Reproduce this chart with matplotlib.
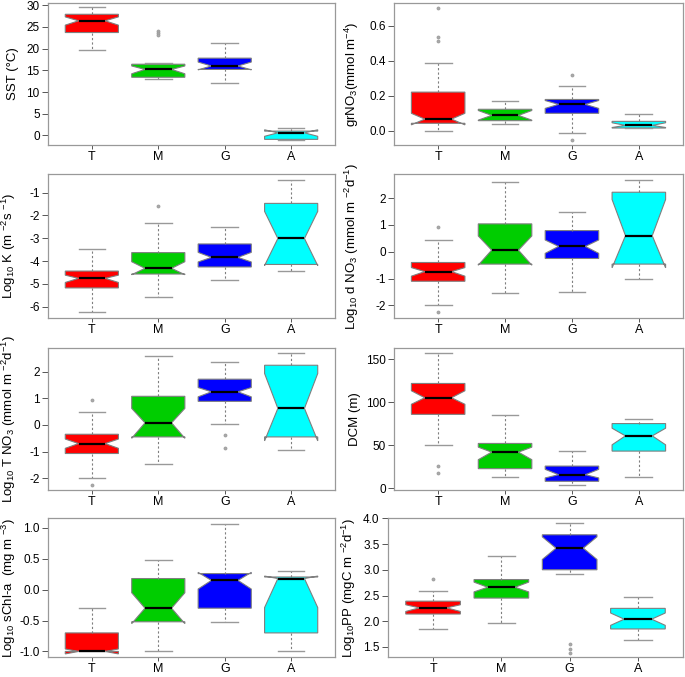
import matplotlib
matplotlib.use("Agg")
import matplotlib.pyplot as plt

plt.rcParams['font.family'] = ['Liberation Sans', 'DejaVu Sans']
plt.rcParams['mathtext.fontset'] = 'custom'
plt.rcParams['mathtext.rm'] = 'Liberation Sans'
plt.rcParams['mathtext.it'] = 'Liberation Sans:italic'

groups = ["T", "M", "G", "A"]
colors = ["#FF0000", "#00CD00", "#0000FF", "#00FFFF"]

# five-number summaries per group: [whislo, q1, median, q3, whishi]
sst_stats = [[19.6, 23.7, 26.4, 27.9, 29.5], [13.0, 13.4, 15.2, 16.4, 16.6],
             [12.0, 15.2, 16.0, 17.8, 21.4], [-1.1, -0.9, 0.6, 1.0, 1.8]]
sst_notch = [[25.4, 27.3], [14.2, 16.0], [15.1, 16.9], [-0.2, 1.3]]
sst_out = [[], [24.1, 23.6, 23.1], [], []]

gr_stats = [[0.0, 0.042, 0.066, 0.220, 0.389], [0.036, 0.057, 0.087, 0.122, 0.167],
            [-0.011, 0.099, 0.150, 0.178, 0.254], [0.015, 0.015, 0.030, 0.053, 0.097]]
gr_notch = [[0.033, 0.099], [0.060, 0.115], [0.127, 0.172], [0.018, 0.045]]
gr_out = [[0.703, 0.532, 0.513], [], [0.315, -0.053], []]

k_stats = [[-6.25, -5.18, -4.76, -4.44, -3.49], [-5.60, -4.57, -4.32, -3.63, -2.31],
           [-4.85, -4.26, -3.84, -3.25, -2.49], [-4.43, -4.15, -3.01, -1.47, -0.44]]
k_notch = [[-4.94, -4.62], [-4.60, -4.03], [-4.04, -3.62], [-4.20, -1.82]]
k_out = [[], [-1.59], [], []]

dn_stats = [[-2.0, -1.10, -0.74, -0.40, 0.425], [-1.53, -0.46, 0.06, 1.04, 2.60],
            [-1.51, -0.25, 0.20, 0.79, 1.50], [-1.0, -0.46, 0.60, 2.22, 2.68]]
dn_notch = [[-0.91, -0.59], [-0.50, 0.59], [-0.06, 0.44], [-0.60, 1.95]]
dn_out = [[0.925, -2.25], [], [], []]

tn_stats = [[-2.0, -1.075, -0.70, -0.35, 0.475], [-1.475, -0.45, 0.08, 1.08, 2.61],
            [0.04, 0.89, 1.25, 1.725, 2.39], [-0.96, -0.45, 0.625, 2.25, 2.71]]
tn_notch = [[-0.88, -0.53], [-0.50, 0.625], [1.06, 1.41], [-0.60, 1.94]]
tn_out = [[0.94, -2.25], [], [-0.375, -0.875], []]

dcm_stats = [[50.1, 85.9, 105.2, 121.8, 157.7], [13.1, 22.8, 42.0, 52.1, 85.2],
             [3.9, 8.1, 15.8, 25.8, 43.2], [13.1, 43.2, 60.9, 75.2, 80.2]]
dcm_notch = [[97.6, 113.3], [33.2, 47.8], [12.0, 22.0], [50.5, 69.8]]
dcm_out = [[25.8, 18.1], [], [], []]

chl_stats = [[-1.0, -1.0, -1.0, -0.70, -0.304], [-1.0, -0.52, -0.30, 0.18, 0.48],
             [-0.52, -0.30, 0.15, 0.26, 1.07], [-1.0, -0.70, 0.18, 0.205, 0.30]]
chl_notch = [[-1.04, -0.96], [-0.55, -0.05], [0.01, 0.28], [-0.29, 0.22]]
chl_out = [[], [], [], []]

pp_stats = [[1.85, 2.14, 2.26, 2.39, 2.59], [1.97, 2.45, 2.66, 2.81, 3.26],
            [2.915, 3.0, 3.42, 3.68, 3.90], [1.64, 1.85, 2.04, 2.25, 2.47]]
pp_notch = [[2.19, 2.32], [2.57, 2.76], [3.20, 3.64], [1.92, 2.16]]
pp_out = [[2.813], [], [1.56, 1.46, 1.39], []]

ylabels = ["SST (°C)",
           r"grNO$_3$(mmol m$^{-4}$)",
           r"Log$_{10}$ K (m $^{-2}$s $^{-1}$)",
           r"Log$_{10}$ d NO$_3$ (mmol m $^{-2}$d$^{-1}$)",
           r"Log$_{10}$ T NO$_3$ (mmol m $^{-2}$d$^{-1}$)",
           "DCM (m)",
           r"Log$_{10}$ sChl-a  (mg m $^{-3}$)",
           r"Log$_{10}$PP (mgC m $^{-2}$d$^{-1}$)"]

yticks = [[0, 5, 10, 15, 20, 25, 30],
          [0.0, 0.2, 0.4, 0.6],
          [-6, -5, -4, -3, -2, -1],
          [-2, -1, 0, 1, 2],
          [-2, -1, 0, 1, 2],
          [0, 50, 100, 150],
          [-1.0, -0.5, 0.0, 0.5, 1.0],
          [1.5, 2.0, 2.5, 3.0, 3.5, 4.0]]
yticklabels = [[str(v) for v in yticks[0]],
               ["0.0", "0.2", "0.4", "0.6"],
               [str(v) for v in yticks[2]],
               [str(v) for v in yticks[3]],
               [str(v) for v in yticks[4]],
               [str(v) for v in yticks[5]],
               ["-1.0", "-0.5", "0.0", "0.5", "1.0"],
               ["1.5", "2.0", "2.5", "3.0", "3.5", "4.0"]]
ylims = [(-2.2, 30.5), (-0.082, 0.729), (-6.5, -0.18), (-2.47, 2.9),
         (-2.45, 2.9), (-2.0, 163.0), (-1.09, 1.16), (1.305, 4.006)]

panels = [(sst_stats, sst_notch, sst_out), (gr_stats, gr_notch, gr_out),
          (k_stats, k_notch, k_out), (dn_stats, dn_notch, dn_out),
          (tn_stats, tn_notch, tn_out), (dcm_stats, dcm_notch, dcm_out),
          (chl_stats, chl_notch, chl_out), (pp_stats, pp_notch, pp_out)]

W, H = 685, 677
fig = plt.figure(figsize=(W / 100, H / 100), dpi=100)

rows_px = [(3, 145), (174, 318), (348, 490), (518, 657)]
left_px = (48, 335)
right_px = (394, 683)
right_px_last = (388, 683)
label_x = [-0.10, -0.115, -0.105, -0.115, -0.105, -0.115, -0.105, -0.10]

for i, (st, nt, outs) in enumerate(panels):
    r, c = divmod(i, 2)
    top, bot = rows_px[r]
    if c == 0:
        l, rr = left_px
    else:
        l, rr = right_px_last if r == 3 else right_px
    ax = fig.add_axes([l / W, 1 - bot / H, (rr - l) / W, (bot - top) / H])
    bstats = []
    for s, n, o in zip(st, nt, outs):
        bstats.append(dict(whislo=s[0], q1=s[1], med=s[2], q3=s[3], whishi=s[4],
                           cilo=n[0], cihi=n[1], fliers=o))
    res = ax.bxp(bstats, positions=[1, 2, 3, 4], widths=0.8, shownotches=True,
                 patch_artist=True,
                 boxprops=dict(edgecolor="#7f7f7f", linewidth=0.8),
                 whiskerprops=dict(color="#7f7f7f", linewidth=0.8, linestyle=(0, (2, 2))),
                 capprops=dict(color="#999999", linewidth=1.0),
                 medianprops=dict(color="black", linewidth=1.6),
                 flierprops=dict(marker="o", markersize=2.2, markerfacecolor="#aaaaaa",
                                 markeredgecolor="#999999", markeredgewidth=0.5))
    for patch, col in zip(res["boxes"], colors):
        patch.set_facecolor(col)
    ax.set_xlim(0.34, 4.66)
    ax.set_ylim(*ylims[i])
    ax.set_xticks([1, 2, 3, 4])
    ax.set_xticklabels(groups, fontsize=9)
    ax.set_yticks(yticks[i])
    ax.set_yticklabels(yticklabels[i], fontsize=8.5)
    ax.tick_params(axis="y", direction="out", length=4, width=0.7,
                   color="#555555", pad=2)
    ax.tick_params(axis="x", direction="out", length=3, width=0.7,
                   color="#555555", pad=1)
    for sp in ax.spines.values():
        sp.set_color("#999999")
        sp.set_linewidth(0.9)
    ax.set_ylabel(ylabels[i], fontsize=9.5)
    ax.yaxis.set_label_coords(label_x[i], 0.5)

fig.savefig("out.png", dpi=100)
